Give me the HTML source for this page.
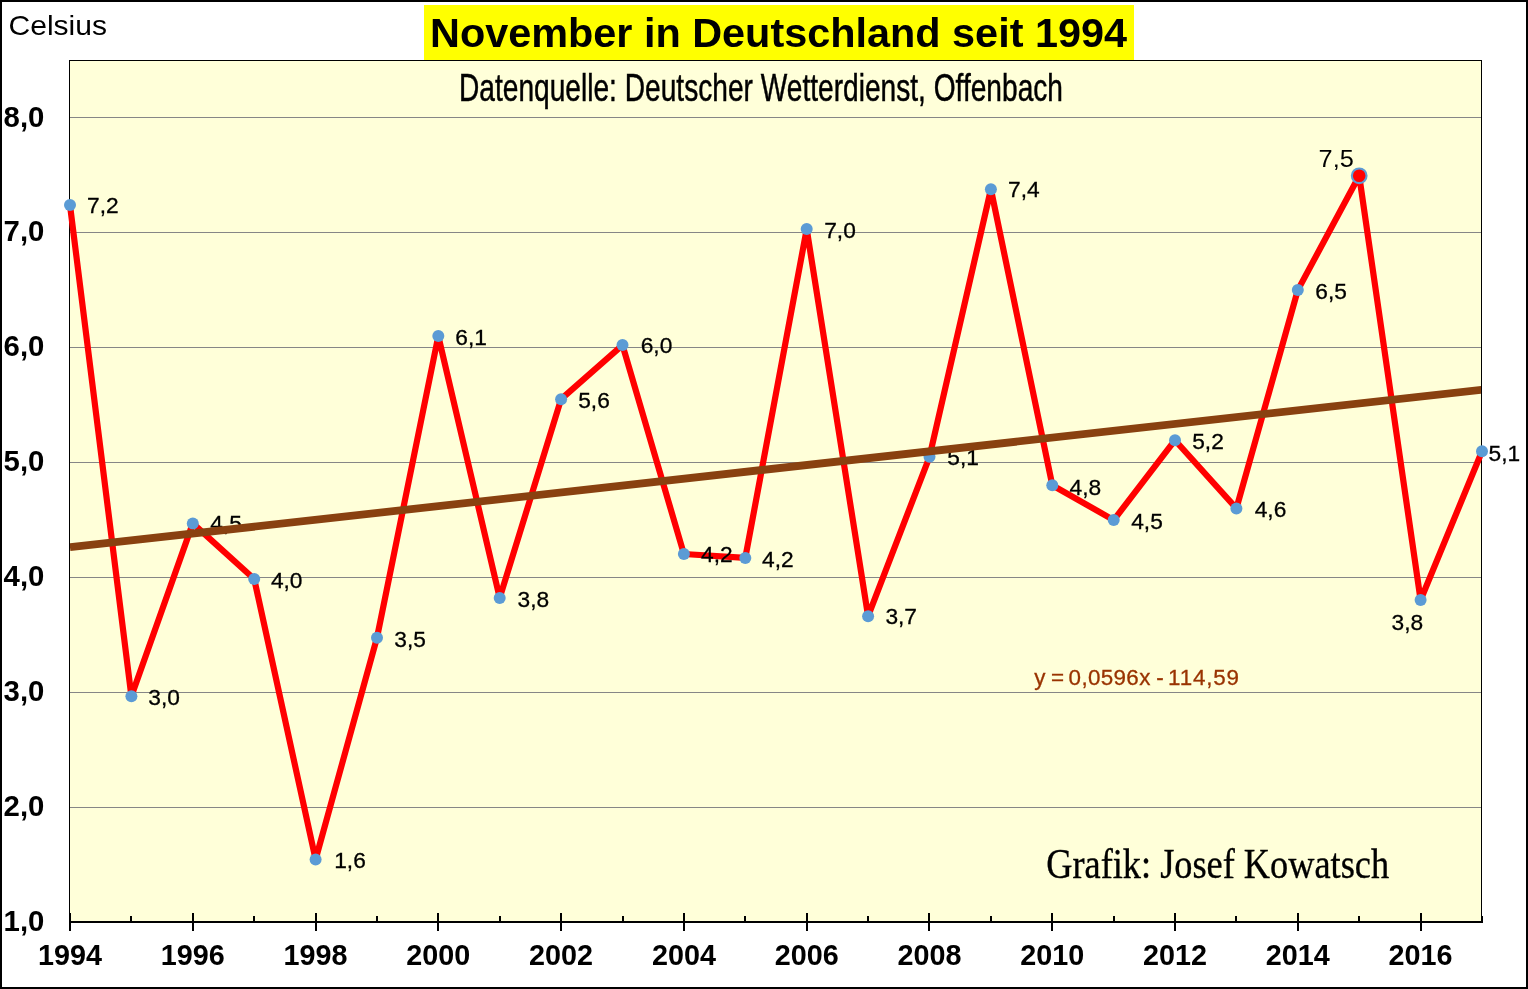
<!DOCTYPE html>
<html lang="de"><head><meta charset="utf-8"><title>November in Deutschland seit 1994</title>
<style>
html,body{margin:0;padding:0;background:#fff;}
body{width:1528px;height:989px;overflow:hidden;}
svg{display:block;}
text{font-family:"Liberation Sans",Arial,sans-serif;fill:#000;}
.ax{font-weight:bold;font-size:29.33px;}
.dl{font-size:22.3px;stroke:#000;stroke-width:0.3px;}
.ser{font-family:"Liberation Serif","Times New Roman",serif;}
</style></head><body>
<svg width="1528" height="989" viewBox="0 0 1528 989">
<rect x="0" y="0" width="1528" height="989" fill="#fff"/>
<rect x="1" y="1" width="1526" height="987" fill="none" stroke="#000" stroke-width="2" shape-rendering="crispEdges"/>
<rect x="424" y="5" width="710" height="55" fill="#FFFF00" shape-rendering="crispEdges"/>
<rect x="69.5" y="60.5" width="1412" height="861" fill="#FFFFD9" stroke="#000" stroke-width="1" shape-rendering="crispEdges"/>
<rect x="70" y="117" width="1411" height="1" fill="#868686" shape-rendering="crispEdges"/>
<rect x="70" y="232" width="1411" height="1" fill="#868686" shape-rendering="crispEdges"/>
<rect x="70" y="347" width="1411" height="1" fill="#868686" shape-rendering="crispEdges"/>
<rect x="70" y="462" width="1411" height="1" fill="#868686" shape-rendering="crispEdges"/>
<rect x="70" y="577" width="1411" height="1" fill="#868686" shape-rendering="crispEdges"/>
<rect x="70" y="692" width="1411" height="1" fill="#868686" shape-rendering="crispEdges"/>
<rect x="70" y="807" width="1411" height="1" fill="#868686" shape-rendering="crispEdges"/>
<rect x="69" y="921" width="1414" height="2" fill="#000" shape-rendering="crispEdges"/>
<rect x="69" y="913" width="2" height="18" fill="#000" shape-rendering="crispEdges"/>
<rect x="130" y="916" width="2" height="7" fill="#000" shape-rendering="crispEdges"/>
<rect x="192" y="913" width="2" height="18" fill="#000" shape-rendering="crispEdges"/>
<rect x="253" y="916" width="2" height="7" fill="#000" shape-rendering="crispEdges"/>
<rect x="315" y="913" width="2" height="18" fill="#000" shape-rendering="crispEdges"/>
<rect x="376" y="916" width="2" height="7" fill="#000" shape-rendering="crispEdges"/>
<rect x="437" y="913" width="2" height="18" fill="#000" shape-rendering="crispEdges"/>
<rect x="499" y="916" width="2" height="7" fill="#000" shape-rendering="crispEdges"/>
<rect x="560" y="913" width="2" height="18" fill="#000" shape-rendering="crispEdges"/>
<rect x="622" y="916" width="2" height="7" fill="#000" shape-rendering="crispEdges"/>
<rect x="683" y="913" width="2" height="18" fill="#000" shape-rendering="crispEdges"/>
<rect x="744" y="916" width="2" height="7" fill="#000" shape-rendering="crispEdges"/>
<rect x="806" y="913" width="2" height="18" fill="#000" shape-rendering="crispEdges"/>
<rect x="867" y="916" width="2" height="7" fill="#000" shape-rendering="crispEdges"/>
<rect x="928" y="913" width="2" height="18" fill="#000" shape-rendering="crispEdges"/>
<rect x="990" y="916" width="2" height="7" fill="#000" shape-rendering="crispEdges"/>
<rect x="1051" y="913" width="2" height="18" fill="#000" shape-rendering="crispEdges"/>
<rect x="1113" y="916" width="2" height="7" fill="#000" shape-rendering="crispEdges"/>
<rect x="1174" y="913" width="2" height="18" fill="#000" shape-rendering="crispEdges"/>
<rect x="1235" y="916" width="2" height="7" fill="#000" shape-rendering="crispEdges"/>
<rect x="1297" y="913" width="2" height="18" fill="#000" shape-rendering="crispEdges"/>
<rect x="1358" y="916" width="2" height="7" fill="#000" shape-rendering="crispEdges"/>
<rect x="1420" y="913" width="2" height="18" fill="#000" shape-rendering="crispEdges"/>
<rect x="1481" y="916" width="2" height="7" fill="#000" shape-rendering="crispEdges"/>
<text x="430" y="47.3" font-weight="bold" font-size="40px" textLength="697" lengthAdjust="spacingAndGlyphs">November in Deutschland seit 1994</text>
<text x="459" y="100.7" font-size="39px" stroke="#000" stroke-width="0.5" textLength="604" lengthAdjust="spacingAndGlyphs">Datenquelle: Deutscher Wetterdienst, Offenbach</text>
<text x="8.5" y="34.6" font-size="27.5px" textLength="98.5" lengthAdjust="spacingAndGlyphs">Celsius</text>
<text class="ax" x="3.6" y="126.6">8,0</text>
<text class="ax" x="3.6" y="240.9">7,0</text>
<text class="ax" x="3.6" y="355.9">6,0</text>
<text class="ax" x="3.6" y="470.9">5,0</text>
<text class="ax" x="3.6" y="585.9">4,0</text>
<text class="ax" x="3.6" y="700.9">3,0</text>
<text class="ax" x="3.6" y="815.9">2,0</text>
<text class="ax" x="3.6" y="930.6">1,0</text>
<text class="ax" x="70.0" y="965.3" text-anchor="middle" textLength="64" lengthAdjust="spacingAndGlyphs">1994</text>
<text class="ax" x="192.8" y="965.3" text-anchor="middle" textLength="64" lengthAdjust="spacingAndGlyphs">1996</text>
<text class="ax" x="315.6" y="965.3" text-anchor="middle" textLength="64" lengthAdjust="spacingAndGlyphs">1998</text>
<text class="ax" x="438.3" y="965.3" text-anchor="middle" textLength="64" lengthAdjust="spacingAndGlyphs">2000</text>
<text class="ax" x="561.1" y="965.3" text-anchor="middle" textLength="64" lengthAdjust="spacingAndGlyphs">2002</text>
<text class="ax" x="683.9" y="965.3" text-anchor="middle" textLength="64" lengthAdjust="spacingAndGlyphs">2004</text>
<text class="ax" x="806.7" y="965.3" text-anchor="middle" textLength="64" lengthAdjust="spacingAndGlyphs">2006</text>
<text class="ax" x="929.5" y="965.3" text-anchor="middle" textLength="64" lengthAdjust="spacingAndGlyphs">2008</text>
<text class="ax" x="1052.3" y="965.3" text-anchor="middle" textLength="64" lengthAdjust="spacingAndGlyphs">2010</text>
<text class="ax" x="1175.0" y="965.3" text-anchor="middle" textLength="64" lengthAdjust="spacingAndGlyphs">2012</text>
<text class="ax" x="1297.8" y="965.3" text-anchor="middle" textLength="64" lengthAdjust="spacingAndGlyphs">2014</text>
<text class="ax" x="1420.6" y="965.3" text-anchor="middle" textLength="64" lengthAdjust="spacingAndGlyphs">2016</text>
<polyline points="70.0,205.1 131.4,696.3 192.8,523.4 254.2,579.0 315.6,859.4 377.0,637.7 438.3,336.0 499.7,597.9 561.1,399.2 622.5,345.1 683.9,554.0 745.3,557.9 806.7,229.1 868.1,616.2 929.5,456.8 990.9,189.2 1052.3,485.2 1113.7,520.1 1175.0,440.2 1236.4,508.4 1297.8,290.1 1359.2,175.8 1420.6,600.0 1482.0,451.3" fill="none" stroke="#FF0000" stroke-width="6.2" stroke-linejoin="round" stroke-linecap="round"/>
<circle cx="70.0" cy="205.1" r="6" fill="#5B9BD5"/>
<circle cx="131.4" cy="696.3" r="6" fill="#5B9BD5"/>
<circle cx="192.8" cy="523.4" r="6" fill="#5B9BD5"/>
<circle cx="254.2" cy="579.0" r="6" fill="#5B9BD5"/>
<circle cx="315.6" cy="859.4" r="6" fill="#5B9BD5"/>
<circle cx="377.0" cy="637.7" r="6" fill="#5B9BD5"/>
<circle cx="438.3" cy="336.0" r="6" fill="#5B9BD5"/>
<circle cx="499.7" cy="597.9" r="6" fill="#5B9BD5"/>
<circle cx="561.1" cy="399.2" r="6" fill="#5B9BD5"/>
<circle cx="622.5" cy="345.1" r="6" fill="#5B9BD5"/>
<circle cx="683.9" cy="554.0" r="6" fill="#5B9BD5"/>
<circle cx="745.3" cy="557.9" r="6" fill="#5B9BD5"/>
<circle cx="806.7" cy="229.1" r="6" fill="#5B9BD5"/>
<circle cx="868.1" cy="616.2" r="6" fill="#5B9BD5"/>
<circle cx="929.5" cy="456.8" r="6" fill="#5B9BD5"/>
<circle cx="990.9" cy="189.2" r="6" fill="#5B9BD5"/>
<circle cx="1052.3" cy="485.2" r="6" fill="#5B9BD5"/>
<circle cx="1113.7" cy="520.1" r="6" fill="#5B9BD5"/>
<circle cx="1175.0" cy="440.2" r="6" fill="#5B9BD5"/>
<circle cx="1236.4" cy="508.4" r="6" fill="#5B9BD5"/>
<circle cx="1297.8" cy="290.1" r="6" fill="#5B9BD5"/>
<circle cx="1359.2" cy="175.8" r="7.35" fill="#FF0000" stroke="#5B9BD5" stroke-width="2.1"/>
<circle cx="1420.6" cy="600.0" r="6" fill="#5B9BD5"/>
<circle cx="1482.0" cy="451.3" r="6" fill="#5B9BD5"/>
<text class="dl" x="87.1" y="213.1" textLength="31.6" lengthAdjust="spacingAndGlyphs">7,2</text>
<text class="dl" x="148.3" y="705.3" textLength="31.6" lengthAdjust="spacingAndGlyphs">3,0</text>
<text class="dl" x="210.3" y="531.0" textLength="31.6" lengthAdjust="spacingAndGlyphs">4,5</text>
<text class="dl" x="270.9" y="588.0" textLength="31.6" lengthAdjust="spacingAndGlyphs">4,0</text>
<text class="dl" x="334.2" y="868.4" textLength="31.6" lengthAdjust="spacingAndGlyphs">1,6</text>
<text class="dl" x="394.3" y="647.1" textLength="31.6" lengthAdjust="spacingAndGlyphs">3,5</text>
<text class="dl" x="455.3" y="345.3" textLength="31.6" lengthAdjust="spacingAndGlyphs">6,1</text>
<text class="dl" x="517.5" y="607.2" textLength="31.6" lengthAdjust="spacingAndGlyphs">3,8</text>
<text class="dl" x="578.2" y="408.2" textLength="31.6" lengthAdjust="spacingAndGlyphs">5,6</text>
<text class="dl" x="640.7" y="353.4" textLength="31.6" lengthAdjust="spacingAndGlyphs">6,0</text>
<text class="dl" x="701.1" y="561.8" textLength="31.6" lengthAdjust="spacingAndGlyphs">4,2</text>
<text class="dl" x="762.0" y="567.0" textLength="31.6" lengthAdjust="spacingAndGlyphs">4,2</text>
<text class="dl" x="824.2" y="237.6" textLength="31.6" lengthAdjust="spacingAndGlyphs">7,0</text>
<text class="dl" x="885.4" y="624.2" textLength="31.6" lengthAdjust="spacingAndGlyphs">3,7</text>
<text class="dl" x="947.3" y="464.5" textLength="31.6" lengthAdjust="spacingAndGlyphs">5,1</text>
<text class="dl" x="1008.0" y="197.2" textLength="31.6" lengthAdjust="spacingAndGlyphs">7,4</text>
<text class="dl" x="1069.5" y="494.5" textLength="31.6" lengthAdjust="spacingAndGlyphs">4,8</text>
<text class="dl" x="1131.2" y="529.4" textLength="31.6" lengthAdjust="spacingAndGlyphs">4,5</text>
<text class="dl" x="1192.2" y="448.7" textLength="31.6" lengthAdjust="spacingAndGlyphs">5,2</text>
<text class="dl" x="1254.7" y="517.4" textLength="31.6" lengthAdjust="spacingAndGlyphs">4,6</text>
<text class="dl" x="1315.3" y="299.0" textLength="31.6" lengthAdjust="spacingAndGlyphs">6,5</text>
<text x="1318.6" y="166.7" font-size="24.6px" textLength="35.2" lengthAdjust="spacingAndGlyphs">7,5</text>
<text class="dl" x="1391.5" y="629.9" textLength="31.6" lengthAdjust="spacingAndGlyphs">3,8</text>
<text class="dl" x="1488.5" y="460.8" textLength="31.6" lengthAdjust="spacingAndGlyphs">5,1</text>
<text y="685.1" font-size="22.4px" letter-spacing="0.35" style="fill:#993300;stroke:#993300;stroke-width:0.3px"><tspan x="1034.2">y </tspan><tspan x="1051">= </tspan><tspan x="1068.6">0,0596x </tspan><tspan x="1156.3">- </tspan><tspan x="1168" letter-spacing="0.85">114,59</tspan></text>
<text class="ser" x="1046.2" y="877.5" font-size="41.5px" stroke="#000" stroke-width="0.35" textLength="342.9" lengthAdjust="spacingAndGlyphs">Grafik: Josef Kowatsch</text>
<clipPath id="pc"><rect x="70" y="61" width="1411" height="860"/></clipPath>
<line x1="70" y1="547.2" x2="1482" y2="389.7" stroke="#894110" stroke-width="7.8" clip-path="url(#pc)"/>
</svg></body></html>
